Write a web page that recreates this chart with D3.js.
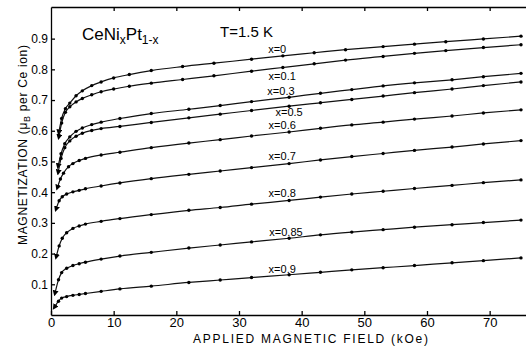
<!DOCTYPE html>
<html>
<head>
<meta charset="utf-8">
<script src="https://cdn.jsdelivr.net/npm/d3@7"></script>
<style>
  body { margin: 0; background: #fff; }
  svg { display: block; font-family: "Liberation Sans", Arial, sans-serif; }
  .axis path, .axis line { stroke: #000; stroke-width: 1.3; }
  .axis text { fill: #000; }
  .curve { fill: none; stroke: #111; stroke-width: 1.2; }
  .dot { fill: #000; }
</style>
</head>
<body>
<div id="chart"></div>
<script>
// measured curves, [field kOe, magnetization muB per Ce ion]
var curveX0 = [[1.3,.600],[1.7,.640],[2.3,.672],[3,.690],[4,.714],[5,.730],[6.5,.747],[8,.759],[10,.772],[12.5,.783],[16,.796],[21,.809],[26,.820],[32,.833],[37,.844],[42,.854],[47,.864],[53,.874],[58,.882],[63,.890],[69,.899],[75,.908]];
var curveX01 = [[1.3,.585],[1.7,.625],[2.3,.660],[3,.678],[4,.694],[5,.705],[6.5,.717],[8,.727],[10,.736],[12.5,.745],[16,.755],[21,.767],[26,.779],[32,.794],[37,.806],[42,.818],[47,.830],[53,.842],[58,.852],[63,.861],[69,.871],[75,.880]];
var curveX03 = [[1.2,.490],[1.6,.525],[2.2,.558],[3,.580],[4,.598],[5,.609],[6.5,.620],[8,.628],[11,.640],[16,.656],[22,.670],[27,.682],[32,.695],[38,.709],[43,.722],[48,.734],[53,.746],[58,.756],[64,.766],[69,.776],[75,.787]];
var curveX05 = [[1.2,.470],[1.6,.510],[2.2,.545],[3,.567],[4,.582],[5,.592],[6.5,.601],[8,.607],[11,.614],[16,.627],[22,.642],[27,.654],[32,.666],[38,.680],[43,.691],[48,.702],[53,.713],[58,.724],[64,.736],[69,.747],[75,.759]];
var curveX06 = [[1.1,.420],[1.5,.443],[2,.462],[2.8,.483],[3.5,.493],[4.5,.503],[5.5,.510],[8,.521],[11,.530],[16,.545],[22,.560],[27,.571],[32,.583],[38,.596],[43,.608],[48,.619],[53,.628],[58,.638],[64,.648],[69,.658],[75,.668]];
var curveX07 = [[0.9,.350],[1.3,.372],[1.8,.385],[2.5,.394],[3.5,.401],[4.5,.406],[5.5,.411],[8,.420],[11,.430],[16,.444],[22,.458],[27,.469],[32,.480],[38,.493],[43,.505],[48,.516],[53,.526],[58,.536],[64,.547],[69,.557],[75,.568]];
var curveX08 = [[0.9,.195],[1.3,.225],[1.8,.250],[2.5,.268],[3.5,.282],[4.5,.290],[5.5,.296],[8,.305],[11,.314],[16,.327],[22,.341],[27,.350],[32,.361],[38,.373],[43,.384],[48,.394],[53,.403],[58,.412],[64,.422],[69,.431],[75,.440]];
var curveX085 = [[0.7,.076],[1.2,.115],[1.7,.138],[2.5,.152],[3.5,.161],[4.5,.167],[5.5,.172],[8,.182],[11,.192],[16,.204],[22,.218],[27,.228],[32,.238],[38,.250],[43,.261],[48,.270],[53,.278],[58,.286],[64,.294],[69,.301],[75,.309]];
var curveX09 = [[0.7,.030],[1.2,.045],[1.7,.055],[2.5,.060],[3.5,.064],[4.5,.067],[5.5,.070],[8,.077],[11,.085],[16,.094],[22,.106],[27,.114],[32,.122],[38,.131],[43,.139],[48,.147],[53,.154],[58,.161],[64,.170],[69,.177],[75,.186]];

var curves = [curveX0, curveX01, curveX03, curveX05, curveX06, curveX07, curveX08, curveX085, curveX09];
var curveNames = ["x=0", "x=0.1", "x=0.3", "x=0.5", "x=0.6", "x=0.7", "x=0.8", "x=0.85", "x=0.9"];
// where each x= label sits (field, magnetization at text baseline)
var labelField = [36.1, 36.9, 36.7, 38.0, 36.9, 36.9, 36.9, 37.5, 36.9];
var labelMag = [0.853, 0.765, 0.717, 0.649, 0.606, 0.505, 0.384, 0.257, 0.137];

var xTicks = [0, 10, 20, 30, 40, 50, 60, 70];
var yTicks = [0.1, 0.2, 0.3, 0.4, 0.5, 0.6, 0.7, 0.8, 0.9];

var W = 526, H = 347;
var margin = {top: 7, right: 0, bottom: 32, left: 51};
var width = W - margin.left - margin.right,
  height = H - margin.top - margin.bottom;

var svg = d3.select("#chart").append("svg")
  .attr("width", W).attr("height", H);

var g = svg.append("g")
  .attr("transform", "translate(" + margin.left + "," + margin.top + ")");

var xScale = d3.scaleLinear().domain([0, 75.8]).range([0, width]);
var yScale = d3.scaleLinear().domain([0, 1.003]).range([height, 0]);

// axes, ticks point inward
g.append("g").attr("class", "axis")
  .attr("transform", "translate(0," + height + ")")
  .call(d3.axisBottom(xScale).tickValues(xTicks).tickSize(-4).tickSizeOuter(0).tickPadding(3))
  .selectAll("text").style("font-size", "13px");

g.append("g").attr("class", "axis")
  .call(d3.axisTop(xScale).tickValues(xTicks.slice(1)).tickSize(-4).tickSizeOuter(0).tickFormat(""));

g.append("g").attr("class", "axis")
  .call(d3.axisLeft(yScale).tickValues(yTicks).tickSize(-4).tickSizeOuter(0).tickPadding(3).tickFormat(d3.format(".1f")))
  .selectAll("text").style("font-size", "12px");

// arrow marker at the start of each curve
svg.append("defs").append("marker")
  .attr("id", "arr")
  .attr("viewBox", "0 0 10 10")
  .attr("refX", 2).attr("refY", 5)
  .attr("markerWidth", 5).attr("markerHeight", 5)
  .attr("orient", "auto-start-reverse")
  .append("path").attr("d", "M0,0L10,5L0,10z").attr("fill", "#000");

var line = d3.line()
  .x(function(d){ return xScale(d[0]); })
  .y(function(d){ return yScale(d[1]); })
  .curve(d3.curveMonotoneX);

curves.forEach(function(c){
  g.append("path")
    .datum(c)
    .attr("class", "curve")
    .attr("marker-start", "url(#arr)")
    .attr("d", line);

  g.selectAll(null)
    .data(c.slice(1))
    .enter().append("circle")
    .attr("class", "dot")
    .attr("cx", function(d){ return xScale(d[0]); })
    .attr("cy", function(d){ return yScale(d[1]); })
    .attr("r", 1.7);
});

// curve labels
g.selectAll(".lbl")
  .data(curveNames)
  .enter().append("text")
  .attr("class", "lbl")
  .attr("x", function(d, i){ return xScale(labelField[i]); })
  .attr("y", function(d, i){ return yScale(labelMag[i]); })
  .attr("text-anchor", "middle")
  .style("font-size", "11px")
  .text(function(d){ return d; });

// title inside the frame
var title = g.append("text")
  .attr("x", 31).attr("y", 33)
  .style("font-size", "17px");
title.append("tspan").text("CeNi");
title.append("tspan").attr("dy", 4).style("font-size", "12px").text("x");
title.append("tspan").attr("dy", -4).text("Pt");
title.append("tspan").attr("dy", 4).style("font-size", "12px").text("1-x");

g.append("text")
  .attr("x", 169).attr("y", 30)
  .style("font-size", "15px")
  .text("T=1.5 K");

// axis titles
svg.append("text")
  .attr("x", 193).attr("y", 343)
  .attr("textLength", 235).attr("lengthAdjust", "spacing")
  .style("font-size", "12px")
  .text("APPLIED MAGNETIC FIELD (kOe)");

var yt = svg.append("text")
  .attr("transform", "translate(27,245) rotate(-90)")
  .attr("textLength", 200).attr("lengthAdjust", "spacing")
  .style("font-size", "12px");
yt.append("tspan").text("MAGNETIZATION  (\u03bc");
yt.append("tspan").attr("dy", 3).style("font-size", "9px").text("B");
yt.append("tspan").attr("dy", -3).text(" per Ce ion)");
</script>
</body>
</html>
